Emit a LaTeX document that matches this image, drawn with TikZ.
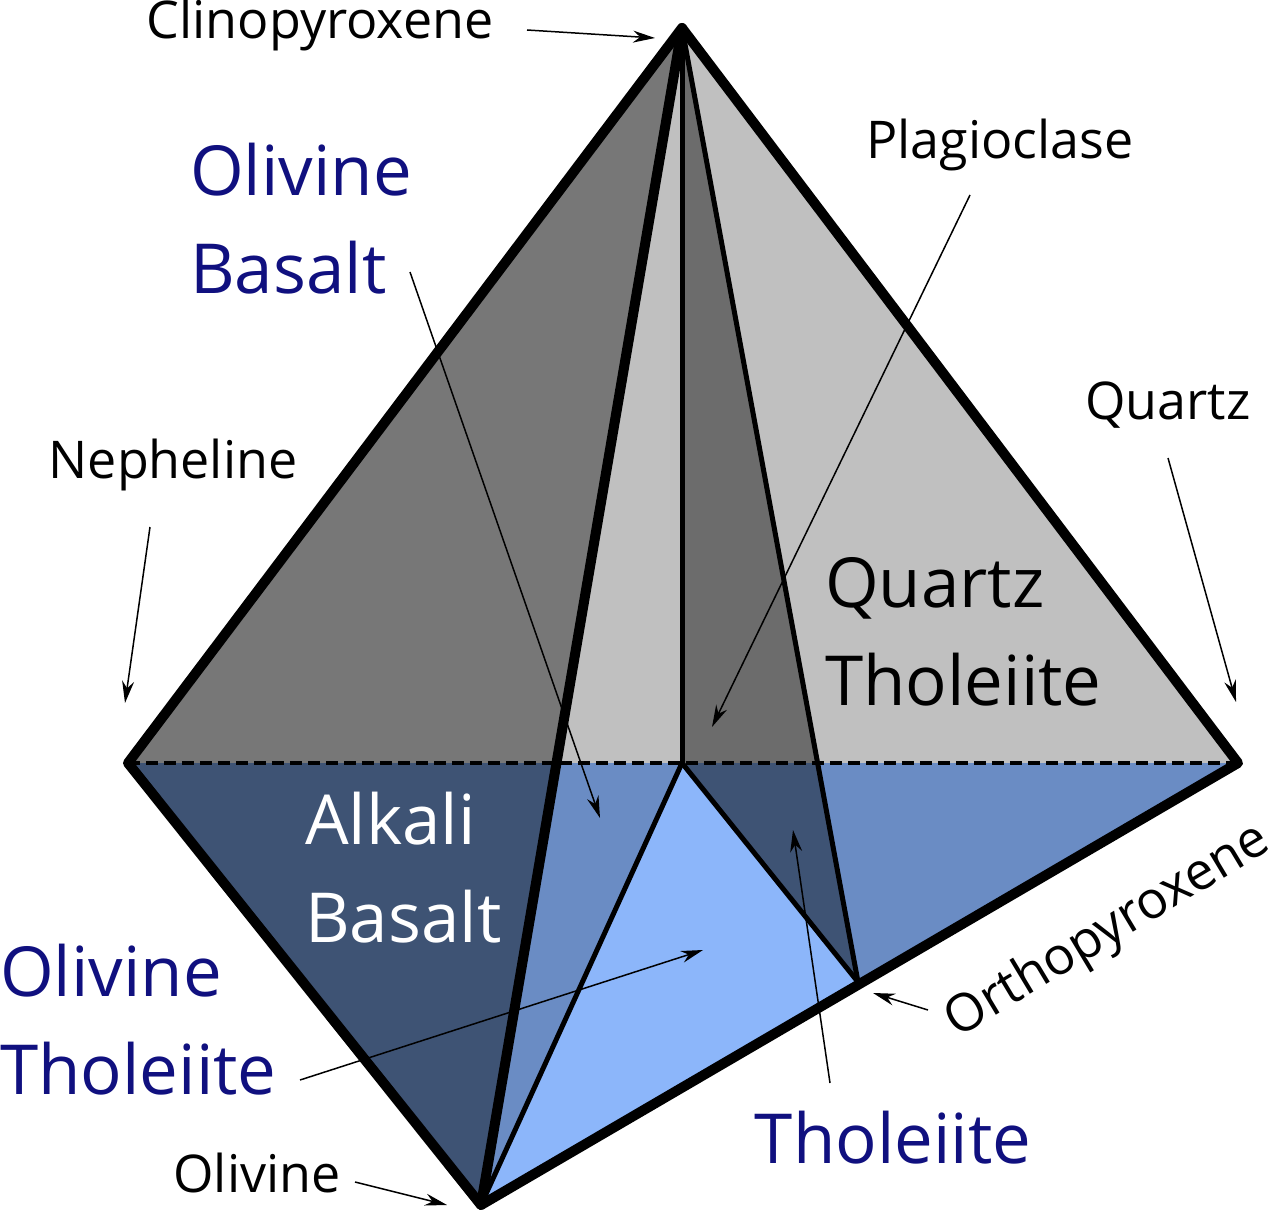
\documentclass[tikz,border=0pt]{standalone}
\usepackage{fontspec}
\setmainfont{Open Sans}
\usetikzlibrary{arrows.meta}
\definecolor{dgray}{HTML}{777777}
\definecolor{lgray}{HTML}{C0C0C0}
\definecolor{mgray}{HTML}{6C6C6C}
\definecolor{dblue}{HTML}{3E5374}
\definecolor{mblue}{HTML}{6A8CC4}
\definecolor{lblue}{HTML}{8CB6FA}
\definecolor{navy}{HTML}{10107F}
\begin{document}
\begin{tikzpicture}[x=1pt,y=-1pt,
  outer/.style={line width=10pt,line join=round,line cap=round},
  inner/.style={line width=5pt,line cap=round},
  arr/.style={line width=1.5pt,-{Stealth[length=22pt,width=12pt]}},
  small/.style={font=\fontsize{52}{58}\selectfont,inner sep=0pt},
  big/.style={font=\fontsize{69}{98}\selectfont,inner sep=0pt,align=left}]
\useasboundingbox (0,0) rectangle (1273,1214);
\coordinate (C) at (682,28);
\coordinate (Ne) at (128,763);
\coordinate (Qz) at (1238,763);
\coordinate (Ol) at (481,1205);
\coordinate (Opx) at (858,982);
\coordinate (Pl) at (682,763);
\coordinate (X1) at (556.5,763);
\coordinate (X2) at (817.6,763);
% fills
\fill[dgray] (C)--(Ne)--(X1)--cycle;
\fill[lgray] (C)--(X1)--(Pl)--cycle;
\fill[mgray] (C)--(Pl)--(X2)--cycle;
\fill[lgray] (C)--(X2)--(Qz)--cycle;
\fill[dblue] (Ne)--(Ol)--(X1)--cycle;
\fill[mblue] (X1)--(Ol)--(Pl)--cycle;
\fill[lblue] (Pl)--(Ol)--(Opx)--cycle;
\fill[dblue] (Pl)--(Opx)--(X2)--cycle;
\fill[mblue] (X2)--(Opx)--(Qz)--cycle;
% lines
\draw[line width=4pt,dash pattern=on 12pt off 6pt] (Ne)--(Qz);
\draw[inner] (C)--(Pl);
\draw[inner] (Pl)--(Ol);
\draw[inner] (Pl)--(Opx);
\draw[inner] (C)--(Opx);
\draw[outer] (C)--(Ol);
\draw[outer] (C)--(Ne)--(Ol)--(Qz)--cycle;
% labels
\node[small] (tcpx) at (320,25) {Clinopyroxene};
\node[small] (tpl) at (1000,145) {Plagioclase};
\node[small] (tqz) at (1168,405) {Quartz};
\node[small] (tne) at (173,465) {Nepheline};
\node[small] (tol) at (257,1173) {Olivine};
\node[small,rotate=31] (topx) at (1108,932) {Orthopyroxene};
\node[big,text=navy,anchor=west] (tob) at (190,219) {Olivine\\Basalt};
\node[big,text=black,anchor=west] (tqt) at (825,632) {Quartz\\Tholeiite};
\node[big,text=white,anchor=west] (tab) at (305,868) {Alkali\\Basalt};
\node[big,text=navy,anchor=west] (tot) at (0,1020) {Olivine\\Tholeiite};
\node[big,text=navy] (tth) at (893,1138) {Tholeiite};
% arrows
\coordinate (a1) at (527,30); \coordinate (b1) at (655,38);
\coordinate (a2) at (970,195); \coordinate (b2) at (712,727);
\coordinate (a3) at (1168,458); \coordinate (b3) at (1236,702);
\coordinate (a4) at (150,527); \coordinate (b4) at (125,703);
\coordinate (a5) at (410,272); \coordinate (b5) at (600,818);
\coordinate (a6) at (300,1080); \coordinate (b6) at (703,950);
\coordinate (a7) at (830,1083); \coordinate (b7) at (793,830);
\coordinate (a8) at (928,1010); \coordinate (b8) at (873,993);
\coordinate (a9) at (355,1182); \coordinate (b9) at (447,1205);
\foreach \i in {1,...,9} \draw[arr] (a\i)--(b\i);
\end{tikzpicture}
\end{document}
